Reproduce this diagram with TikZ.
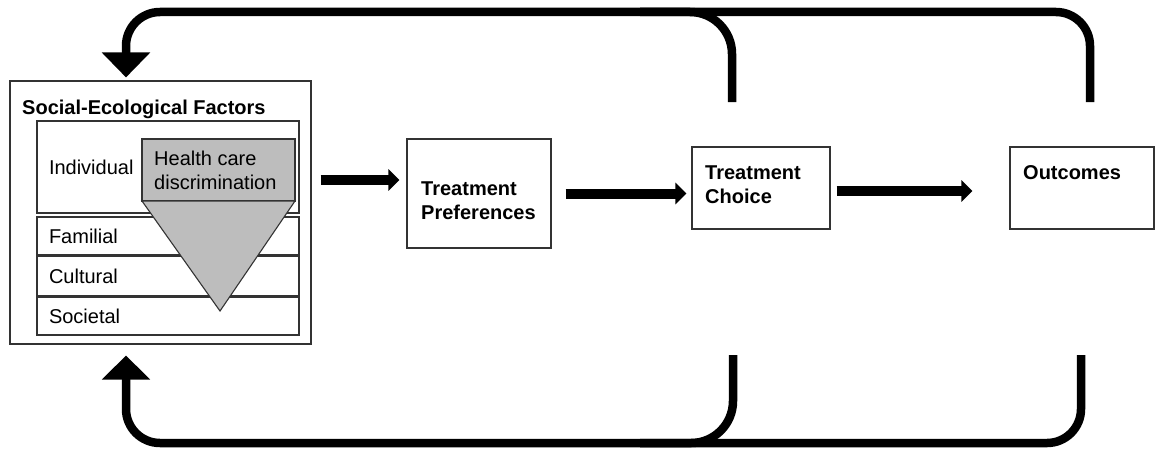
\documentclass[tikz,border=0pt]{standalone}
\usepackage{fontspec}
\setmainfont{Liberation Sans}
\usetikzlibrary{arrows.meta}
\tikzset{
	box/.style={draw=black!80,line width=1.1pt,inner sep=0pt},
	layer/.style={box,minimum width=262pt,text width=238pt,inner xsep=12pt,align=left},
	lbl/.style={anchor=north west,inner sep=0pt,align=left},
	flow/.style={line width=10pt,-{Triangle[length=11pt,width=21pt]}},
	fback/.style={line width=8.5pt,rounded corners=34pt},
	hcd/.style={draw=black!80,line width=1.1pt,fill=black!26}
}
\begin{document}
\begin{tikzpicture}[x=1pt,y=-1pt,font=\fontsize{20}{24}\selectfont]
\useasboundingbox (0,0) rectangle (1155,452);
% social-ecological factors
\node[box,minimum width=301pt,minimum height=263pt] (sef) at (160.5,212.5) {};
\node[lbl,font=\fontsize{20}{24}\selectfont\bfseries] (seft) at (22,99.5) {Social-Ecological Factors};
\node[layer,minimum height=92pt] (indiv) at (168,167) {Individual};
\node[layer,minimum height=38pt] (fam) at (168,236) {Familial};
\node[layer,minimum height=39pt] (cult) at (168,276) {Cultural};
\node[layer,minimum height=38pt] (soc) at (168,316) {Societal};
\draw[hcd] (142,139) rectangle (295,201);
\draw[hcd] (142,201) -- (295,201) -- (220,311) -- cycle;
\node[lbl] (hcdt) at (154,150.5) {Health care\\discrimination};
% other boxes
\node[box,minimum width=144pt,minimum height=109pt] (tp) at (479,193.5) {};
\node[lbl,font=\fontsize{20}{24}\selectfont\bfseries] (tpt) at (421,181.5) {Treatment\\Preferences};
\node[box,minimum width=138pt,minimum height=82pt] (tc) at (761,188) {};
\node[lbl,font=\fontsize{20}{24}\selectfont\bfseries] (tct) at (705,165.5) {Treatment\\Choice};
\node[box,minimum width=144pt,minimum height=82pt] (out) at (1082,188) {};
\node[lbl,font=\fontsize{20}{24}\selectfont\bfseries] (outt) at (1023,165.5) {Outcomes};
% arrows
\draw[flow] ([xshift=9pt,yshift=32.5pt]sef.east) -- ([xshift=-7pt,yshift=13.5pt]tp.west);
\draw[flow] ([xshift=14pt]tp.east) -- ([xshift=-5pt,yshift=-5.5pt]tc.west);
\draw[flow] ([xshift=6pt,yshift=-3pt]tc.east) -- ([xshift=-37pt,yshift=-3pt]out.west);
% feedback loops
\coordinate (oup) at (1090,102);
\coordinate (cup) at (732,102);
\coordinate (odn) at (1081,355);
\coordinate (cdn) at (733,355);
\coordinate (topl) at (126,12);
\coordinate (botl) at (126,443);
\coordinate (tjoin) at (640,12);
\coordinate (bjoin) at (640,443);
\draw[fback,-{Triangle[length=25pt,width=47pt]},shorten >=3pt] (oup) |- (topl) -- (sef.north -| topl);
\draw[fback,rounded corners=42pt] (cup) |- (tjoin);
\draw[fback,-{Triangle[length=24pt,width=47pt]},shorten >=11pt] (odn) |- (botl) -- (sef.south -| botl);
\draw[fback,rounded corners=42pt] (cdn) |- (bjoin);
\end{tikzpicture}
\end{document}
